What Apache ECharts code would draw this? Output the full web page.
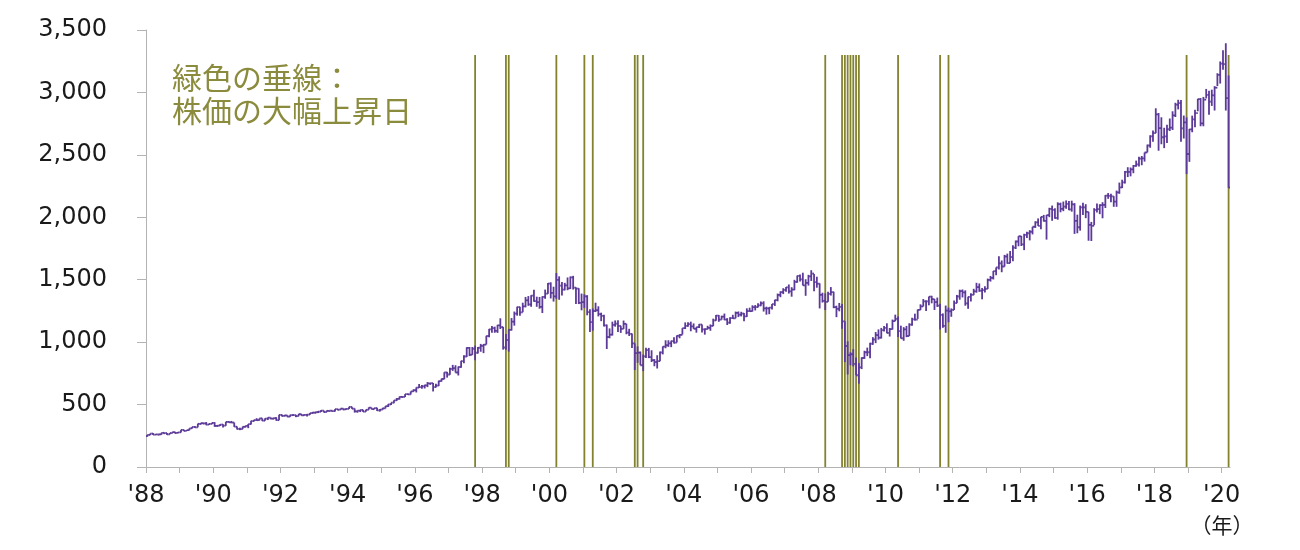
<!DOCTYPE html>
<html>
<head>
<meta charset="utf-8">
<script src="https://cdn.jsdelivr.net/npm/echarts@6/dist/echarts.min.js"></script>
<style>
  html, body { margin: 0; padding: 0; background: #fff; }
  #chart { width: 1300px; height: 550px; }
</style>
</head>
<body>
<div id="chart"></div>
<script>
// 月足（1988年1月〜2020年3月）
const startYear = 1988;
const firstOpen = 247; // 1987年12月末

const closes = [
  257, 268, 259, 261, 262, 274, 272, 262, 272, 279, 274, 278,            // 1988
  297, 289, 295, 310, 321, 318, 346, 351, 349, 340, 346, 353,            // 1989
  329, 332, 340, 331, 361, 358, 356, 323, 306, 304, 322, 330,            // 1990
  344, 367, 375, 375, 390, 371, 388, 395, 388, 392, 375, 417,            // 1991
  409, 413, 404, 415, 415, 408, 424, 414, 418, 419, 431, 436,            // 1992
  439, 443, 452, 440, 450, 451, 448, 464, 459, 468, 462, 466,            // 1993
  482, 467, 446, 451, 457, 444, 458, 475, 463, 472, 454, 459,            // 1994
  470, 487, 501, 515, 533, 545, 562, 562, 584, 582, 605, 616,            // 1995
  636, 640, 646, 654, 669, 671, 640, 652, 687, 705, 757, 741,            // 1996
  786, 791, 757, 801, 848, 885, 954, 899, 947, 915, 955, 970,            // 1997
  980, 1049, 1102, 1112, 1091, 1134, 1121, 957, 1017, 1099, 1164, 1229,  // 1998
  1280, 1238, 1286, 1335, 1302, 1373, 1329, 1320, 1283, 1363, 1389, 1469, // 1999
  1394, 1366, 1499, 1452, 1421, 1455, 1431, 1518, 1437, 1429, 1315, 1320, // 2000
  1366, 1240, 1160, 1249, 1256, 1224, 1211, 1134, 1041, 1060, 1139, 1148, // 2001
  1130, 1107, 1147, 1077, 1067, 990, 912, 916, 815, 886, 936, 880,       // 2002
  856, 841, 848, 917, 964, 975, 990, 1008, 996, 1051, 1058, 1112,        // 2003
  1131, 1145, 1126, 1107, 1121, 1141, 1102, 1104, 1115, 1130, 1174, 1212, // 2004
  1181, 1204, 1181, 1157, 1192, 1191, 1234, 1220, 1229, 1207, 1249, 1248, // 2005
  1280, 1281, 1295, 1311, 1270, 1270, 1277, 1304, 1336, 1378, 1401, 1418, // 2006
  1438, 1407, 1421, 1482, 1531, 1503, 1455, 1474, 1527, 1549, 1481, 1468, // 2007
  1379, 1331, 1323, 1386, 1400, 1280, 1267, 1283, 1166, 969, 896, 903,   // 2008
  826, 735, 798, 873, 919, 919, 987, 1021, 1057, 1036, 1096, 1115,       // 2009
  1074, 1104, 1169, 1187, 1089, 1031, 1102, 1049, 1141, 1183, 1181, 1258, // 2010
  1286, 1327, 1326, 1364, 1345, 1321, 1292, 1219, 1131, 1253, 1247, 1258, // 2011
  1312, 1366, 1408, 1398, 1310, 1362, 1379, 1407, 1441, 1412, 1416, 1426, // 2012
  1498, 1515, 1569, 1598, 1631, 1606, 1686, 1633, 1682, 1757, 1806, 1848, // 2013
  1783, 1859, 1872, 1884, 1924, 1960, 1931, 2003, 1972, 2018, 2068, 2059, // 2014
  1995, 2105, 2068, 2086, 2107, 2063, 2104, 1972, 1920, 2079, 2080, 2044, // 2015
  1940, 1932, 2060, 2065, 2097, 2099, 2174, 2171, 2168, 2126, 2199, 2239, // 2016
  2279, 2364, 2363, 2384, 2412, 2423, 2470, 2472, 2519, 2575, 2648, 2674, // 2017
  2824, 2714, 2641, 2648, 2705, 2718, 2816, 2902, 2914, 2712, 2760, 2507, // 2018
  2704, 2784, 2834, 2946, 2752, 2942, 2980, 2926, 2977, 3038, 3141, 3231, // 2019
  3226, 2954, 2237                                                        // 2020
];

const highs = [
  259, 268, 272, 263, 262, 274, 274, 272, 272, 283, 280, 280,
  298, 300, 296, 310, 322, 327, 347, 352, 354, 360, 347, 354,
  359, 336, 344, 343, 362, 368, 369, 356, 324, 315, 324, 331,
  344, 371, 378, 391, 390, 390, 390, 397, 395, 394, 399, 418,
  421, 418, 414, 419, 423, 418, 425, 425, 423, 420, 432, 441,
  442, 449, 456, 452, 453, 452, 451, 464, 464, 469, 468, 471,
  483, 483, 469, 453, 458, 459, 459, 477, 476, 474, 475, 464,
  474, 489, 505, 515, 534, 552, 565, 566, 584, 587, 605, 622,
  638, 665, 656, 659, 680, 673, 673, 667, 692, 708, 759, 762,
  795, 818, 815, 805, 851, 896, 959, 961, 961, 972, 962, 986,
  985, 1051, 1106, 1130, 1124, 1139, 1191, 1122, 1066, 1102, 1193, 1245,
  1284, 1283, 1316, 1362, 1369, 1376, 1419, 1364, 1362, 1367, 1421, 1474,
  1479, 1444, 1553, 1527, 1482, 1475, 1518, 1526, 1531, 1438, 1432, 1389,
  1383, 1376, 1263, 1270, 1316, 1287, 1236, 1219, 1141, 1110, 1164, 1174,
  1176, 1131, 1173, 1147, 1107, 1070, 990, 966, 925, 901, 955, 954,
  935, 864, 895, 925, 966, 1015, 1015, 1012, 1040, 1054, 1064, 1112,
  1158, 1159, 1164, 1150, 1122, 1146, 1141, 1109, 1131, 1142, 1188, 1217,
  1217, 1212, 1229, 1192, 1199, 1219, 1245, 1246, 1243, 1233, 1271, 1276,
  1295, 1297, 1311, 1326, 1327, 1284, 1280, 1306, 1340, 1389, 1407, 1432,
  1441, 1462, 1440, 1499, 1533, 1541, 1556, 1504, 1539, 1576, 1545, 1524,
  1471, 1396, 1391, 1404, 1441, 1404, 1292, 1314, 1305, 1167, 1007, 919,
  944, 878, 833, 879, 931, 956, 996, 1040, 1081, 1102, 1114, 1130,
  1151, 1113, 1181, 1220, 1205, 1132, 1120, 1130, 1151, 1196, 1228, 1262,
  1303, 1345, 1333, 1365, 1371, 1346, 1357, 1308, 1230, 1293, 1277, 1270,
  1334, 1378, 1420, 1422, 1415, 1364, 1392, 1427, 1475, 1470, 1434, 1448,
  1509, 1530, 1570, 1598, 1688, 1654, 1699, 1709, 1730, 1776, 1814, 1849,
  1850, 1868, 1884, 1897, 1924, 1968, 1991, 2005, 2019, 2019, 2076, 2094,
  2072, 2120, 2117, 2126, 2135, 2130, 2133, 2113, 2021, 2094, 2117, 2105,
  2044, 1963, 2073, 2111, 2104, 2121, 2178, 2194, 2188, 2169, 2214, 2278,
  2301, 2371, 2401, 2399, 2419, 2454, 2484, 2491, 2519, 2582, 2657, 2695,
  2873, 2835, 2801, 2717, 2742, 2791, 2849, 2917, 2941, 2940, 2815, 2800,
  2708, 2814, 2861, 2949, 2955, 2964, 3028, 3014, 3022, 3050, 3154, 3248,
  3338, 3394, 3136
];

const lows = [
  243, 255, 256, 256, 252, 258, 263, 256, 261, 272, 265, 271,
  276, 287, 288, 294, 308, 315, 318, 338, 341, 335, 337, 342,
  322, 322, 329, 316, 330, 356, 353, 321, 300, 295, 303, 316,
  311, 341, 364, 370, 372, 368, 371, 376, 382, 380, 371, 375,
  405, 405, 399, 402, 412, 399, 407, 410, 412, 405, 417, 426,
  427, 432, 440, 437, 439, 442, 443, 445, 453, 457, 454, 460,
  464, 466, 436, 435, 440, 441, 443, 458, 462, 462, 449, 444,
  459, 469, 481, 497, 510, 529, 540, 553, 561, 576, 580, 602,
  597, 633, 627, 629, 640, 658, 605, 637, 648, 684, 703, 716,
  738, 770, 756, 733, 795, 830, 881, 888, 898, 855, 910, 923,
  912, 981, 1039, 1076, 1075, 1074, 1105, 940, 940, 924, 1093, 1132,
  1212, 1212, 1240, 1279, 1291, 1283, 1324, 1283, 1268, 1233, 1347, 1387,
  1350, 1325, 1347, 1339, 1374, 1415, 1416, 1426, 1421, 1306, 1305, 1255,
  1274, 1215, 1081, 1092, 1241, 1206, 1168, 1126, 945, 1031, 1053, 1124,
  1081, 1074, 1106, 1063, 1049, 953, 776, 834, 815, 768, 873, 872,
  841, 807, 789, 847, 902, 951, 962, 960, 990, 997, 1031, 1061,
  1105, 1124, 1087, 1106, 1076, 1113, 1078, 1060, 1102, 1091, 1128, 1172,
  1163, 1180, 1176, 1137, 1147, 1188, 1191, 1201, 1206, 1168, 1202, 1244,
  1245, 1254, 1277, 1288, 1245, 1220, 1224, 1262, 1290, 1327, 1360, 1385,
  1403, 1389, 1364, 1416, 1476, 1485, 1454, 1371, 1453, 1490, 1407, 1436,
  1270, 1317, 1257, 1323, 1373, 1272, 1200, 1247, 1107, 840, 741, 815,
  805, 734, 667, 784, 866, 888, 870, 979, 992, 1020, 1029, 1086,
  1071, 1045, 1101, 1168, 1041, 1029, 1011, 1040, 1049, 1131, 1173, 1186,
  1257, 1286, 1249, 1295, 1311, 1258, 1282, 1101, 1115, 1075, 1159, 1203,
  1258, 1312, 1340, 1358, 1292, 1267, 1325, 1377, 1396, 1403, 1343, 1398,
  1426, 1485, 1502, 1536, 1582, 1560, 1605, 1628, 1633, 1647, 1746, 1768,
  1770, 1737, 1834, 1815, 1863, 1915, 1930, 1905, 1965, 1821, 2001, 1972,
  1988, 1981, 2040, 2049, 2068, 2056, 2045, 1867, 1872, 1893, 2019, 1993,
  1812, 1810, 1937, 2039, 2025, 1992, 2074, 2148, 2120, 2084, 2084, 2188,
  2234, 2271, 2322, 2328, 2353, 2405, 2407, 2417, 2446, 2520, 2557, 2605,
  2674, 2533, 2585, 2554, 2595, 2691, 2699, 2803, 2864, 2604, 2631, 2346,
  2444, 2681, 2722, 2849, 2729, 2729, 2952, 2822, 2892, 2855, 3051, 3071,
  3182, 2855, 2237
];

// 株価の大幅上昇日がある月
const upMonths = [
  '1997-10', '1998-09', '1998-10', '2000-03', '2001-01', '2001-04',
  '2002-07', '2002-08', '2002-10', '2008-03', '2008-09', '2008-10',
  '2008-11', '2008-12', '2009-01', '2009-02', '2009-03', '2010-05',
  '2011-08', '2011-11', '2018-12', '2020-03'
];
const markTop = 3300;

const yTicks = [0, 500, 1000, 1500, 2000, 2500, 3000, 3500];
const labelYears = [1988, 1990, 1992, 1994, 1996, 1998, 2000, 2002, 2004,
  2006, 2008, 2010, 2012, 2014, 2016, 2018, 2020];

const purple = '#5c3a98';
const olive = '#83832f';

// 月の中央に置く
function monthX (year, month) {
  return year + (month - 0.5) / 12;
}

const barData = closes.map(function (c, i) {
  const open = i === 0 ? firstOpen : closes[i - 1];
  const year = startYear + Math.floor(i / 12);
  return [monthX(year, (i % 12) + 1), open, c, lows[i], highs[i]];
});

const markData = upMonths.map(function (s) {
  const p = s.split('-');
  return [monthX(+p[0], +p[1])];
});

const yearTicks = [];
for (let y = startYear; y <= 2020; y++) yearTicks.push(y);

function renderBar (params, api) {
  const x = api.value(0);
  const o = api.coord([x, api.value(1)]);
  const c = api.coord([x, api.value(2)]);
  const lo = api.coord([x, api.value(3)]);
  const hi = api.coord([x, api.value(4)]);
  const half = api.size([1 / 12, 0])[0] / 2;
  const style = { stroke: purple, lineWidth: 1.8 };
  return {
    type: 'group',
    children: [
      { type: 'line', shape: { x1: o[0] - half, y1: o[1], x2: o[0], y2: o[1] }, style: style },
      { type: 'line', shape: { x1: hi[0], y1: hi[1], x2: lo[0], y2: lo[1] }, style: style },
      { type: 'line', shape: { x1: c[0], y1: c[1], x2: c[0] + half, y2: c[1] }, style: style }
    ]
  };
}

function renderMark (params, api) {
  const top = api.coord([api.value(0), markTop]);
  const bottom = api.coord([api.value(0), 0]);
  return {
    type: 'line',
    shape: { x1: top[0], y1: top[1], x2: bottom[0], y2: bottom[1] },
    style: { stroke: olive, lineWidth: 1.8 }
  };
}

const myChart = echarts.init(document.getElementById('chart'));
myChart.setOption({
  animation: false,
  grid: { left: 146, right: 70, top: 30, bottom: 83 },
  xAxis: {
    type: 'value',
    min: 1988,
    max: 2020.25,
    splitLine: { show: false },
    axisLine: { lineStyle: { color: '#b3b3b3', width: 1 } },
    axisTick: {
      customValues: yearTicks,
      length: 6,
      lineStyle: { color: '#b3b3b3' }
    },
    axisLabel: {
      customValues: labelYears,
      margin: 17,
      color: '#1a1a1a',
      fontFamily: 'DejaVu Sans',
      fontSize: 24,
      formatter: function (v) { return "'" + String(v).slice(2); }
    }
  },
  yAxis: {
    type: 'value',
    min: 0,
    max: 3500,
    interval: 500,
    splitLine: { show: false },
    axisLine: { show: true, lineStyle: { color: '#b3b3b3', width: 1 } },
    axisTick: { show: true, length: 9, lineStyle: { color: '#b3b3b3' } },
    axisLabel: {
      customValues: yTicks,
      margin: 39,
      color: '#1a1a1a',
      fontFamily: 'DejaVu Sans',
      fontSize: 24,
      formatter: function (v) { return v.toLocaleString('en-US'); }
    }
  },
  graphic: [
    {
      type: 'text',
      left: 172,
      top: 61,
      style: {
        text: '緑色の垂線：\n株価の大幅上昇日',
        fill: '#8b8b3e',
        font: '30px "Noto Sans CJK JP"',
        lineHeight: 33
      }
    },
    {
      type: 'text',
      x: 1222,
      y: 525,
      style: {
        text: '（年）',
        fill: '#1a1a1a',
        font: '21px "Noto Sans CJK JP"',
        align: 'center',
        verticalAlign: 'middle'
      }
    }
  ],
  series: [
    {
      name: '大幅上昇日',
      type: 'custom',
      renderItem: renderMark,
      data: markData,
      encode: { x: 0 },
      silent: true,
      z: 1
    },
    {
      name: '株価',
      type: 'custom',
      renderItem: renderBar,
      data: barData,
      encode: { x: 0, y: [1, 2, 3, 4] },
      silent: true,
      z: 2
    }
  ]
});
window.onresize = myChart.resize;
</script>
</body>
</html>
